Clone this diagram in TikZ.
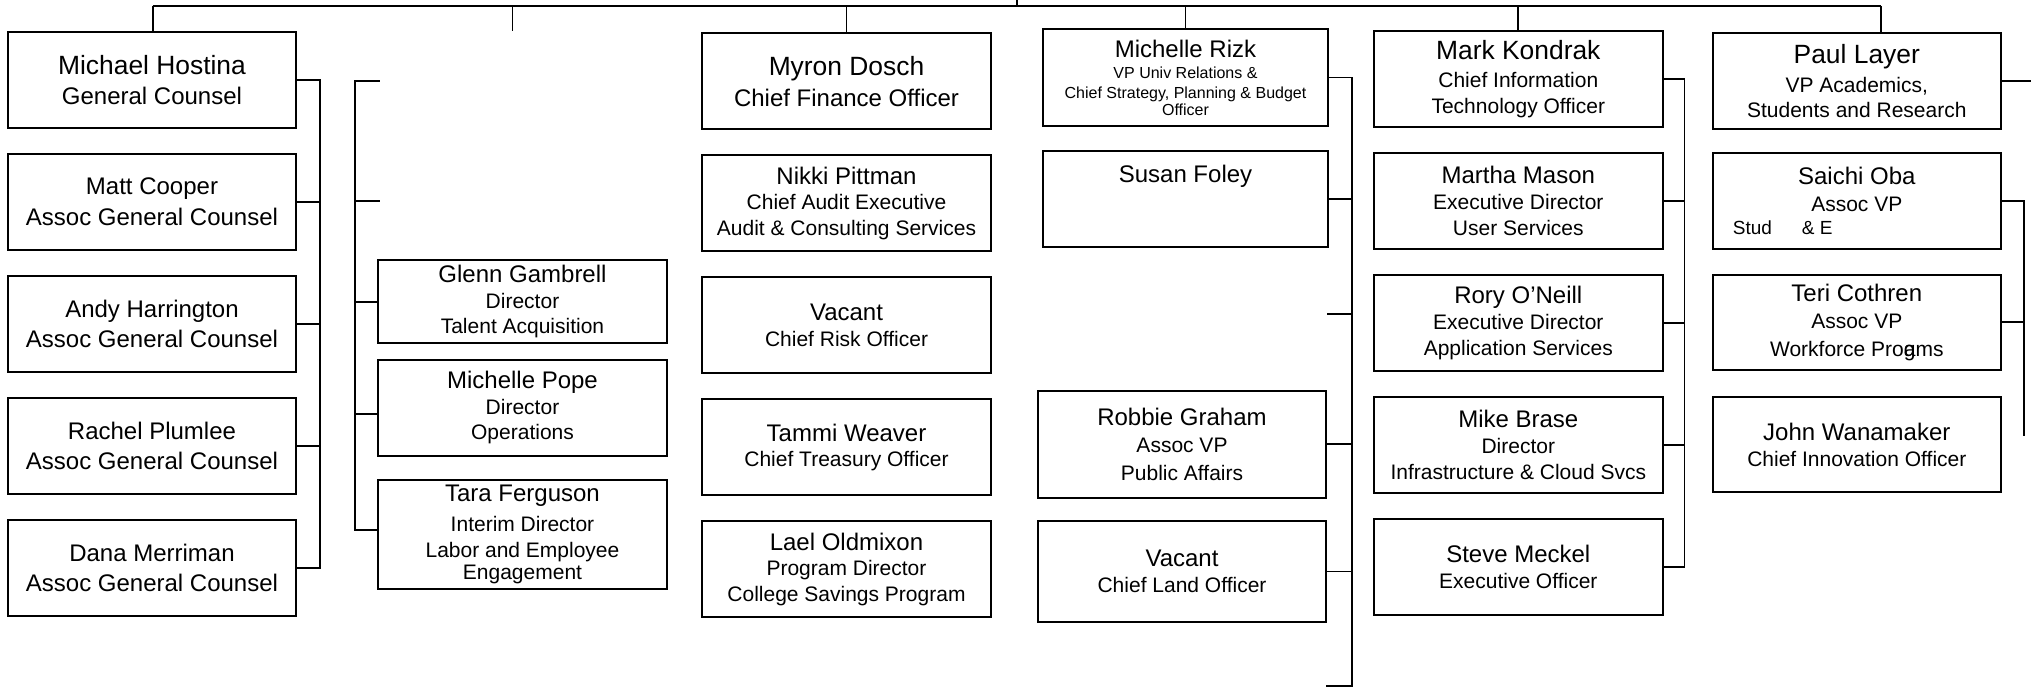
\documentclass[tikz,border=0pt]{standalone}
\usepackage{fontspec}
\setmainfont{Liberation Sans}
\usetikzlibrary{positioning}
\newcommand{\headname}[1]{{\fontsize{13.2}{13.2}\selectfont #1}}
\newcommand{\staffname}[1]{{\fontsize{12}{12}\selectfont #1}}

\begin{document}
\begin{tikzpicture}[x=0.5pt, y=-0.5pt,
  every node/.style = {shape=rectangle, draw, line width=1pt,
    align=center, inner sep=0pt, minimum width=144.3pt,
    minimum height=48pt, font=\fontsize{10.5}{12.8}\selectfont}]
    \tikzstyle{counsel}=[font=\fontsize{12}{15.3}\selectfont]
    \tikzstyle{finesub}=[font=\fontsize{8}{10}\selectfont]
    \tikzstyle{link}=[line width=0.9pt]
  \useasboundingbox (0,0) rectangle (2031,688);

  \node [counsel, anchor=north] (hostina) at (152,31) {\headname{Michael Hostina}\\General Counsel};
  \node [counsel, below=12pt of hostina] (cooper) {\staffname{Matt Cooper}\\Assoc General Counsel};
  \node [counsel, below=12pt of cooper] (harrington) {\staffname{Andy Harrington}\\Assoc General Counsel};
  \node [counsel, below=12pt of harrington] (plumlee) {\staffname{Rachel Plumlee}\\Assoc General Counsel};
  \node [counsel, below=12pt of plumlee] (merriman) {\staffname{Dana Merriman}\\Assoc General Counsel};

  \node [anchor=north, minimum height=41.7pt] (gambrell) at (522.5,259) {\staffname{Glenn Gambrell}\\Director\\Talent Acquisition};
  \node [below=7.2pt of gambrell] (pope) {\staffname{Michelle Pope}\\Director\\Operations};
  \node [below=11.3pt of pope, minimum height=54.2pt] (ferguson) {\staffname{Tara Ferguson}\\[2.2pt]Interim Director\\Labor and Employee\\[-1.9pt]Engagement};

  \node [counsel, anchor=north] (dosch) at (846.5,32.3) {\headname{Myron Dosch}\\Chief Finance Officer};
  \node [below=12pt of dosch] (pittman) {\staffname{Nikki Pittman}\\Chief Audit Executive\\Audit \& Consulting Services};
  \node [below=12pt of pittman] (riskvacant) {\staffname{Vacant}\\Chief Risk Officer};
  \node [below=12pt of riskvacant] (weaver) {\staffname{Tammi Weaver}\\Chief Treasury Officer};
  \node [below=12pt of weaver] (oldmixon) {\staffname{Lael Oldmixon}\\Program Director\\College Savings Program};

  \node [finesub, anchor=north, minimum width=142.2pt, minimum height=48.3pt] (rizk) at (1185.5,28.3) {\staffname{Michelle Rizk}\\[0.5pt]VP Univ Relations \&\\Chief Strategy, Planning \& Budget\\[-1.6pt]Officer};
  \node [below=11.5pt of rizk, minimum width=142.2pt, minimum height=48.2pt] (foley) {\staffname{Susan Foley}\\~\\~};
  \node [below=70.8pt of foley, xshift=-1.75pt, minimum width=144pt, minimum height=53.5pt] (graham) {\staffname{Robbie Graham}\\[0.5pt]Assoc VP\\[1.2pt]Public Affairs};
  \node [below=10.5pt of graham, minimum width=144pt, minimum height=50.7pt] (landvacant) {\staffname{Vacant}\\Chief Land Officer};

  \node [anchor=north] (kondrak) at (1518.3,30) {\headname{Mark Kondrak}\\[1.4pt]Chief Information\\Technology Officer};
  \node [below=12pt of kondrak] (mason) {\staffname{Martha Mason}\\Executive Director\\User Services};
  \node [below=12pt of mason] (oneill) {\staffname{Rory O’Neill}\\Executive Director\\Application Services};
  \node [below=12pt of oneill] (brase) {\staffname{Mike Brase}\\Director\\Infrastructure \& Cloud Svcs};
  \node [below=12pt of brase] (meckel) {\staffname{Steve Meckel}\\Executive Officer};

  \node [anchor=north] (layer) at (1856.8,32.3) {\headname{Paul Layer}\\[1.4pt]VP Academics,\\Students and Research};
  \node [below=10.8pt of layer] (oba) {\staffname{Saichi Oba}\\[0.5pt]Assoc VP\\[-1.1pt]\makebox[144.3pt][l]{\fontsize{9.5}{9.5}\selectfont\hspace{10.2pt}Stud\hspace{15pt}\&~E}};
  \node [below=12pt of oba, minimum height=47.5pt] (cothren) {\staffname{Teri Cothren}\\[0.5pt]Assoc VP\\[1.3pt]Workforce Pro\rlap{g}ams};
  \node [below=12.8pt of cothren, minimum height=47.5pt] (wanamaker) {\staffname{John Wanamaker}\\Chief Innovation Officer};

  \coordinate (top) at (1016.7,0);
  \coordinate (busL) at (152.7,6);
  \coordinate (busR) at (1880.7,6);
  \coordinate (hrdrop) at (512.5,31);
  \coordinate (gcspine) at (319.6,0);
  \coordinate (hrspine) at (355,81);
  \coordinate (hrstubA) at (379.5,81);
  \coordinate (hrstubB) at (379.5,201);
  \coordinate (rzstub) at (1327.3,314);
  \coordinate (rzspine) at (1352.3,685.7);
  \coordinate (rzfoot) at (1326,685.7);
  \coordinate (citspine) at (1684.4,0);
  \coordinate (rim) at (2031,0);
  \coordinate (vpfoot) at (2024.3,436);

  \draw [link] (top) -- (top |- busL);
  \draw [link] (busL) -- (busR);
  \draw [link] (busL) -- (busL |- hostina.north);
  \draw [link] (busL -| hrdrop) -- (hrdrop);
  \draw [link] (busL -| dosch.north) -- (dosch.north);
  \draw [link] (busL -| rizk.north) -- (rizk.north);
  \draw [link] (busL -| kondrak.north) -- (kondrak.north);
  \draw [link] (busR) -- (busR |- layer.north);

  \draw [link] (hostina.east) -| (gcspine |- merriman.east) -- (merriman.east);
  \draw [link] (cooper.east) -- (cooper.east -| gcspine);
  \draw [link] (harrington.east) -- (harrington.east -| gcspine);
  \draw [link] (plumlee.east) -- (plumlee.east -| gcspine);

  \draw [link] (hrstubA) -- (hrspine) |- ([yshift=2.4pt]ferguson.west);
  \draw [link] (hrstubB) -- (hrstubB -| hrspine);
  \draw [link] (gambrell.west) -- (gambrell.west -| hrspine);
  \draw [link] ([yshift=-3pt]pope.west) -- ([yshift=-3pt]pope.west -| hrspine);

  \draw [link] (rizk.east) -| (rzspine) -- (rzfoot);
  \draw [link] (foley.east) -- (foley.east -| rzspine);
  \draw [link] (rzstub) -- (rzstub -| rzspine);
  \draw [link] (graham.east) -- (graham.east -| rzspine);
  \draw [link] (landvacant.east) -- (landvacant.east -| rzspine);

  \draw [link] (kondrak.east) -| (citspine |- meckel.east) -- (meckel.east);
  \draw [link] (mason.east) -- (mason.east -| citspine);
  \draw [link] (oneill.east) -- (oneill.east -| citspine);
  \draw [link] (brase.east) -- (brase.east -| citspine);

  \draw [link] (layer.east) -- (layer.east -| rim);
  \draw [link] (oba.east) -| (vpfoot);
  \draw [link] (cothren.east) -- (cothren.east -| vpfoot);
\end{tikzpicture}
\end{document}
